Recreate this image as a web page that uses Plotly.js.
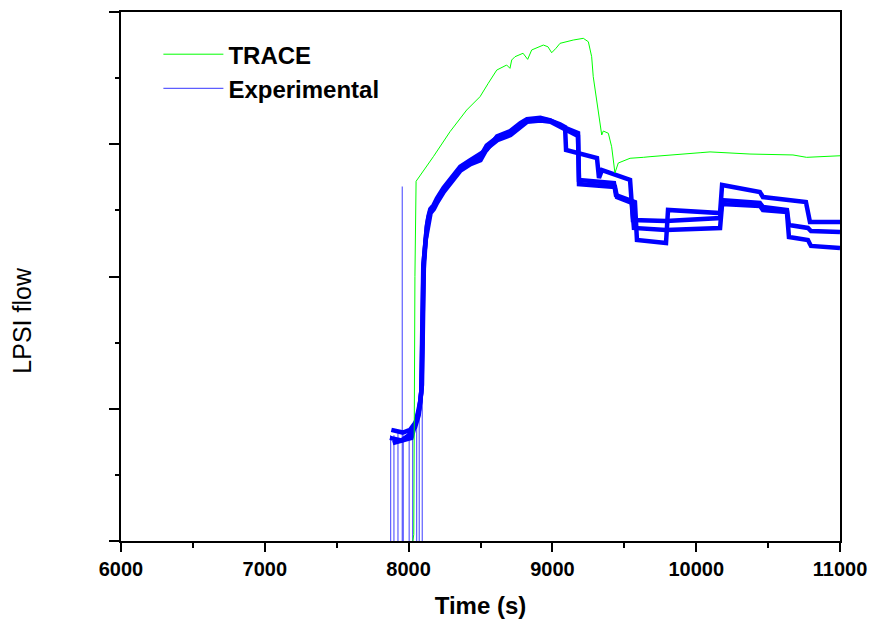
<!DOCTYPE html>
<html>
<head>
<meta charset="utf-8">
<script src="https://cdn.plot.ly/plotly-3.0.1.min.js"></script>
<style>
  html, body { margin: 0; padding: 0; background: #fff; }
  #chart { width: 872px; height: 619px; }
</style>
</head>
<body>
<div id="chart"></div>
<script>
// ---- TRACE calculation (green) ----
const traceTime = [8030, 8036, 8044, 8048, 8052, 8172, 8288, 8404, 8497, 8554, 8613, 8682, 8705, 8717, 8740, 8796, 8828, 8856, 8937, 8969, 8995, 9025, 9053, 9145, 9215, 9250, 9273, 9284, 9319, 9331, 9343, 9354, 9389, 9412, 9435, 9458, 9540, 9632, 9679, 10027, 10096, 10374, 10673, 10768, 10977, 11000];
const traceFlow = [0, 0.05, 2.0, 2.49, 2.72, 2.906, 3.095, 3.259, 3.36, 3.461, 3.561, 3.599, 3.574, 3.637, 3.662, 3.688, 3.642, 3.713, 3.750, 3.737, 3.692, 3.726, 3.763, 3.788, 3.801, 3.775, 3.662, 3.511, 3.246, 3.18, 3.07, 3.10, 3.083, 2.981, 2.783, 2.858, 2.894, 2.901, 2.906, 2.936, 2.942, 2.926, 2.919, 2.901, 2.913, 2.913];

// ---- Experimental runs (blue) ----
const expATime = [7870, 7950, 8000, 8045, 8070, 8088, 8102, 8114, 8126, 8137, 8149, 8172, 8195, 8241, 8288, 8357, 8427, 8496, 8543, 8613, 8705, 8775, 8821, 8914, 8983, 9053, 9088, 9095, 9190, 9310, 9324, 9345, 9540, 9560, 9790, 10166, 10180, 10443, 10464, 10631, 10645, 10777, 10798, 11000];
const expAFlow = [0.78, 0.76, 0.80, 0.86, 0.95, 1.12, 2.08, 2.29, 2.37, 2.44, 2.49, 2.52, 2.57, 2.65, 2.72, 2.81, 2.86, 2.90, 2.99, 3.05, 3.09, 3.15, 3.18, 3.19, 3.18, 3.15, 3.13, 2.957, 2.93, 2.896, 2.745, 2.805, 2.730, 2.427, 2.420, 2.442, 2.578, 2.556, 2.526, 2.503, 2.389, 2.367, 2.344, 2.336];

const expBTime = [7880, 7960, 8010, 8050, 8075, 8090, 8104, 8116, 8128, 8139, 8151, 8174, 8197, 8243, 8290, 8359, 8429, 8498, 8545, 8615, 8707, 8777, 8823, 8916, 8985, 9055, 9120, 9178, 9185, 9428, 9442, 9574, 9588, 9790, 9804, 10166, 10180, 10443, 10464, 10763, 10791, 11000];
const expBFlow = [0.84, 0.82, 0.84, 0.90, 1.00, 1.15, 2.10, 2.31, 2.39, 2.46, 2.51, 2.54, 2.59, 2.67, 2.74, 2.83, 2.88, 2.93, 2.96, 3.06, 3.10, 3.16, 3.19, 3.20, 3.18, 3.14, 3.11, 3.085, 2.730, 2.707, 2.616, 2.563, 2.276, 2.253, 2.503, 2.480, 2.692, 2.639, 2.601, 2.563, 2.412, 2.412];

const expCTime = [7890, 7970, 8020, 8055, 8080, 8093, 8106, 8118, 8130, 8141, 8153, 8176, 8199, 8245, 8292, 8361, 8431, 8500, 8547, 8617, 8709, 8779, 8825, 8918, 8987, 9057, 9120, 9178, 9185, 9435, 9449, 9553, 9567, 9790, 10166, 10180, 10443, 10464, 10631, 10645, 10777, 10798, 11000];
const expCFlow = [0.74, 0.76, 0.78, 0.92, 1.05, 1.18, 2.06, 2.27, 2.35, 2.42, 2.48, 2.51, 2.56, 2.64, 2.70, 2.80, 2.85, 2.88, 2.97, 3.03, 3.07, 3.13, 3.17, 3.18, 3.17, 3.13, 3.09, 3.062, 2.699, 2.677, 2.601, 2.556, 2.367, 2.352, 2.367, 2.548, 2.533, 2.503, 2.488, 2.299, 2.276, 2.231, 2.215];

// spikes in experimental signal around pump start
const spikeTime = [7875, 7898, 7926, 7956, 7963, 8004, 8028, 8056, 8074, 8095];
const spikeTop  = [0.80, 0.80, 0.82, 2.68, 0.80, 0.80, 0.82, 0.88, 0.98, 1.12];

// axis ticks
const xTickVals = [6000, 7000, 8000, 9000, 10000, 11000];
const xTickText = ['6000', '7000', '8000', '9000', '10000', '11000'];

const spikeX = [], spikeY = [];
spikeTime.forEach((t, i) => { spikeX.push(t, t, null); spikeY.push(0, spikeTop[i], null); });

const FONT = '"Liberation Sans", Arial, sans-serif';
const BLUE = '#0000ff';
const runLine = { color: BLUE, width: 4.5 };

const data = [
  { x: spikeX, y: spikeY, type: 'scatter', mode: 'lines', name: '<b>Experimental</b>',
    line: { color: 'rgba(40,40,255,0.75)', width: 1.2 }, connectgaps: false, legendrank: 2 },
  { x: expATime, y: expAFlow, type: 'scatter', mode: 'lines', line: runLine, showlegend: false },
  { x: expBTime, y: expBFlow, type: 'scatter', mode: 'lines', line: runLine, showlegend: false },
  { x: expCTime, y: expCFlow, type: 'scatter', mode: 'lines', line: runLine, showlegend: false },
  { x: traceTime, y: traceFlow, type: 'scatter', mode: 'lines', name: '<b>TRACE</b>',
    line: { color: '#00ff00', width: 1 }, legendrank: 1 }
];

const layout = {
  width: 872, height: 619,
  margin: { l: 121, r: 32, t: 12, b: 78 },
  paper_bgcolor: '#fff', plot_bgcolor: '#fff',
  font: { family: FONT, color: '#000' },
  showlegend: true,
  legend: {
    x: 0.052, y: 0.962, xanchor: 'left', yanchor: 'top',
    bgcolor: 'rgba(0,0,0,0)', borderwidth: 0,
    font: { family: FONT, size: 24, color: '#000' },
    itemwidth: 60,
    tracegroupgap: 0
  },
  xaxis: {
    range: [6000, 11000], tickmode: 'array', tickvals: xTickVals, ticktext: xTickText,
    ticks: 'outside', ticklen: 9, tickwidth: 2, tickcolor: '#000',
    showline: true, linewidth: 2, linecolor: '#000', mirror: true,
    showgrid: false, zeroline: false,
    tickfont: { family: FONT, size: 20, color: '#000', weight: 'bold' },
    minor: { dtick: 500, tick0: 6000, ticks: 'outside', ticklen: 5, tickwidth: 2, tickcolor: '#000', showgrid: false },
    title: { text: '<b>Time (s)</b>', font: { family: FONT, size: 24, color: '#000' }, standoff: 18 }
  },
  yaxis: {
    range: [0, 4], dtick: 1, tick0: 0, showticklabels: false,
    ticks: 'outside', ticklen: 10, tickwidth: 2, tickcolor: '#000',
    showline: true, linewidth: 2, linecolor: '#000', mirror: true,
    showgrid: false, zeroline: false,
    minor: { dtick: 0.5, tick0: 0, ticks: 'outside', ticklen: 4, tickwidth: 2, tickcolor: '#000', showgrid: false }
  },
  annotations: [{
    text: 'LPSI flow', xref: 'paper', yref: 'paper', x: -0.138, y: 0.418,
    xanchor: 'center', yanchor: 'middle', textangle: -90, showarrow: false,
    font: { family: FONT, size: 25, color: '#000' }
  }]
};

Plotly.newPlot('chart', data, layout, { displayModeBar: false, staticPlot: true });
</script>
</body>
</html>
